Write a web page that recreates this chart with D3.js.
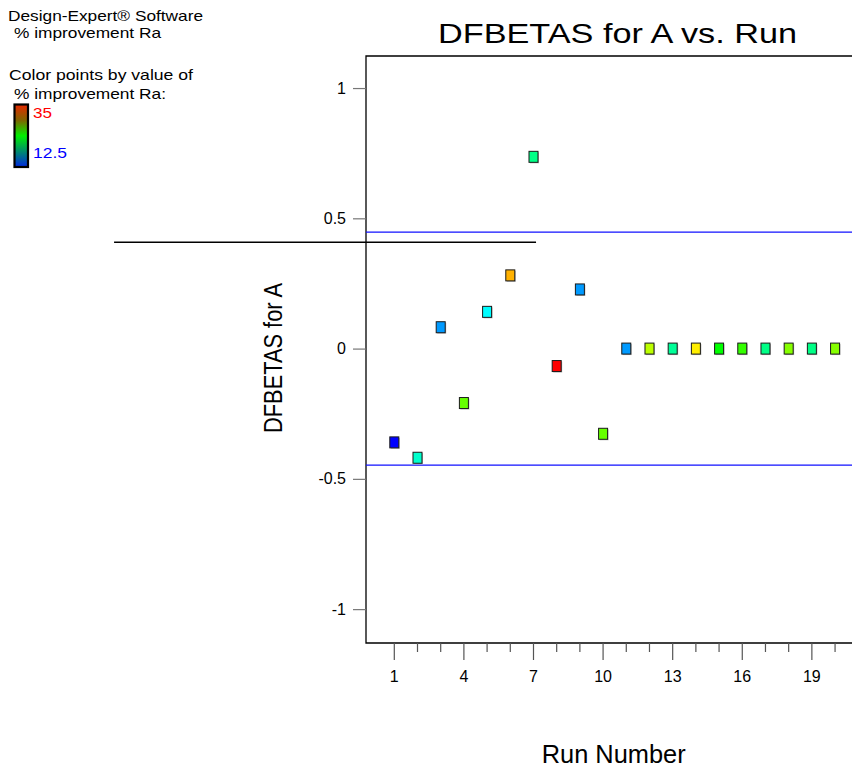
<!DOCTYPE html>
<html>
<head>
<meta charset="utf-8">
<script src="https://cdn.jsdelivr.net/npm/d3@7"></script>
<style>
  html, body { margin: 0; padding: 0; background: #fff; }
  svg { display: block; font-family: "Liberation Sans", Arial, sans-serif; }
</style>
</head>
<body>
<svg id="chart" width="852" height="769"></svg>
<script>
// Run order and DFBETAS for factor A
const runs = [1, 2, 3, 4, 5, 6, 7, 8, 9, 10, 11, 12, 13, 14, 15, 16, 17, 18, 19, 20];
const dfbetasA = [-0.360, -0.419, 0.082, -0.209, 0.141, 0.281, 0.736, -0.067, 0.227, -0.327,
                  0, 0, 0, 0, 0, 0, 0, 0, 0, 0];
// Response (% improvement Ra) used to colour each point
const improvementRa = [12.5, 19.25, 15.9, 26.0, 18.1, 31.1, 20.8, 35.0, 15.9, 26.0,
                       15.9, 27.9, 20.4, 29.75, 23.75, 24.9, 20.8, 26.7, 20.8, 26.7];
const colorRange = [12.5, 35];
// Limits drawn as horizontal guide lines
const dfbetasLimit = 0.447;
const yTicks = [-1, -0.5, 0, 0.5, 1];
const yTickLabels = ["-1", "-0.5", "0", "0.5", "1"];
const xTicks = d3.range(1, 21);
const xLabelTicks = [1, 4, 7, 10, 13, 16, 19];
// Stray horizontal rule across the left part of the graph
const strayRule = { value: 0.408, fromRun: -11.08, toRun: 7.11 };

const svg = d3.select("#chart");
const plotLeft = 366, plotRight = 852, plotTop = 56, plotBottom = 643;

const x = d3.scaleLinear().domain([-0.22, 20.73]).range([plotLeft, plotRight]);
const y = d3.scaleLinear().domain([-1.13, 1.123]).range([plotBottom, plotTop]);

// point colour: blue -> cyan -> green -> yellow -> red
const cStep = (colorRange[1] - colorRange[0]) / 4;
const color = d3.scaleLinear()
  .domain(d3.range(5).map(i => colorRange[0] + i * cStep))
  .range(["#0000ff", "#00ffff", "#00ff00", "#ffff00", "#ff0000"]);

// frame (left, top, bottom)
svg.append("path")
  .attr("d", `M${plotRight},${plotTop}H${plotLeft}V${plotBottom}H${plotRight}`)
  .attr("fill", "none").attr("stroke", "#000").attr("stroke-width", 1.3);

// y axis
const yAxis = svg.append("g").attr("transform", `translate(${plotLeft},0)`)
  .call(d3.axisLeft(y).tickValues(yTicks).tickSize(13).tickPadding(7)
    .tickFormat((d, i) => yTickLabels[i]));
yAxis.select(".domain").remove();
yAxis.selectAll("line").attr("stroke", "#777").attr("stroke-width", 1.2);
yAxis.selectAll("text").attr("font-size", 16).attr("font-family", "Liberation Sans, Arial, sans-serif").attr("fill", "#000");

// x axis: minor ticks every run, longer labelled ticks every third run
const xAxis = svg.append("g").attr("transform", `translate(0,${plotBottom})`);
xAxis.selectAll("line.tick").data(xTicks).join("line")
  .attr("class", "tick")
  .attr("x1", d => x(d)).attr("x2", d => x(d))
  .attr("y1", 0).attr("y2", d => xLabelTicks.includes(d) ? 17 : 9)
  .attr("stroke", "#555").attr("stroke-width", 1.2);
xAxis.selectAll("text").data(xLabelTicks).join("text")
  .attr("x", d => x(d)).attr("y", 39)
  .attr("text-anchor", "middle").attr("font-size", 16)
  .text(d => d);

// guide lines
svg.selectAll("line.limit").data([dfbetasLimit, -dfbetasLimit]).join("line")
  .attr("class", "limit")
  .attr("x1", plotLeft).attr("x2", plotRight)
  .attr("y1", d => y(d)).attr("y2", d => y(d))
  .attr("stroke", "#1010ff").attr("stroke-width", 1.3);

svg.append("line")
  .attr("x1", x(strayRule.fromRun)).attr("x2", x(strayRule.toRun))
  .attr("y1", y(strayRule.value)).attr("y2", y(strayRule.value))
  .attr("stroke", "#000").attr("stroke-width", 1.4);

// points
const pw = 9, ph = 11;
const pts = svg.append("g");
pts.selectAll("rect.shadow").data(runs).join("rect")
  .attr("class", "shadow")
  .attr("x", (d) => x(d) - pw / 2 + 1).attr("y", (d, i) => y(dfbetasA[i]) - ph / 2 + 1)
  .attr("width", pw).attr("height", ph)
  .attr("fill", "#bbb");
pts.selectAll("rect.pt").data(runs).join("rect")
  .attr("class", "pt")
  .attr("x", (d) => x(d) - pw / 2).attr("y", (d, i) => y(dfbetasA[i]) - ph / 2)
  .attr("width", pw).attr("height", ph)
  .attr("fill", (d, i) => color(improvementRa[i]))
  .attr("stroke", "#1a1a1a").attr("stroke-width", 1);

// titles
svg.append("text").attr("x", 617.5).attr("y", 43)
  .attr("text-anchor", "middle").attr("font-size", 28)
  .attr("textLength", 359).attr("lengthAdjust", "spacingAndGlyphs")
  .text("DFBETAS for A vs. Run");
svg.append("text").attr("x", 613.7).attr("y", 763)
  .attr("text-anchor", "middle").attr("font-size", 25)
  .attr("textLength", 144).attr("lengthAdjust", "spacingAndGlyphs")
  .text("Run Number");
svg.append("text")
  .attr("transform", "translate(282,358) rotate(-90)")
  .attr("text-anchor", "middle").attr("font-size", 26)
  .attr("textLength", 150).attr("lengthAdjust", "spacingAndGlyphs")
  .text("DFBETAS for A");

// legend block
const legend = svg.append("g").attr("font-size", 15);
const legendLines = [
  { t: "Design-Expert® Software", x: 8, y: 20.5, w: 195 },
  { t: "% improvement Ra", x: 14, y: 38, w: 147 },
  { t: "Color points by value of", x: 9, y: 80, w: 184 },
  { t: "% improvement Ra:", x: 14, y: 98.5, w: 152 }
];
legend.selectAll("text.line").data(legendLines).join("text")
  .attr("class", "line")
  .attr("x", d => d.x).attr("y", d => d.y)
  .attr("textLength", d => d.w).attr("lengthAdjust", "spacingAndGlyphs")
  .text(d => d.t);

const defs = svg.append("defs");
const grad = defs.append("linearGradient").attr("id", "rampRa")
  .attr("x1", 0).attr("x2", 0).attr("y1", 0).attr("y2", 1);
[["0%", "#e82800"], ["25%", "#806400"], ["50%", "#00f000"], ["75%", "#008c6e"], ["100%", "#0028e0"]]
  .forEach(([o, c]) => grad.append("stop").attr("offset", o).attr("stop-color", c));
legend.append("rect").attr("x", 14.5).attr("y", 104.5).attr("width", 13.5).attr("height", 62.5)
  .attr("fill", "url(#rampRa)").attr("stroke", "#000").attr("stroke-width", 2.2);
legend.append("text").attr("x", 33).attr("y", 118.3).attr("fill", "#ff0000")
  .attr("textLength", 19).attr("lengthAdjust", "spacingAndGlyphs").text(colorRange[1]);
legend.append("text").attr("x", 33).attr("y", 158.3).attr("fill", "#0000ff")
  .attr("textLength", 34).attr("lengthAdjust", "spacingAndGlyphs").text(colorRange[0]);
</script>
</body>
</html>
